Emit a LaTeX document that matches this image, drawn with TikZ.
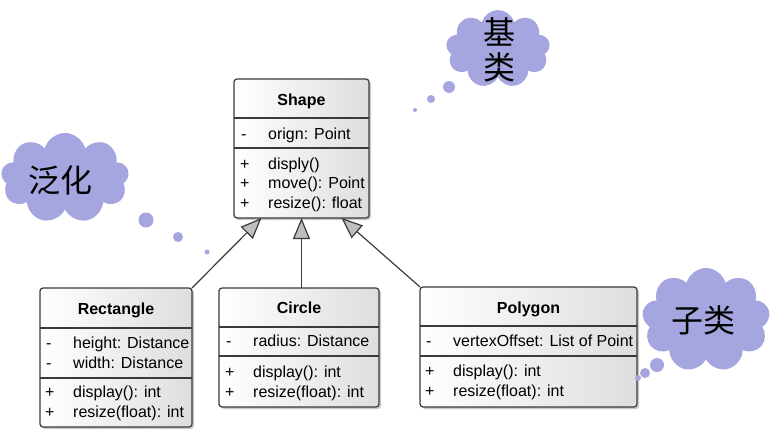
\documentclass[tikz,border=0pt]{standalone}
\usepackage{fontspec}
\setmainfont{Liberation Sans}
\newfontfamily\cjk{Noto Sans CJK SC}
\usetikzlibrary{shapes.symbols,shadows,arrows.meta}
\definecolor{cloudc}{RGB}{165,165,223}
\definecolor{boxline}{RGB}{58,58,58}
\tikzset{
  classbox/.style={draw=boxline, line width=1.2pt, rounded corners=3pt,
    left color=white, right color=black!13,
    drop shadow={shadow xshift=2pt, shadow yshift=-2pt, opacity=0.35, fill=black!60},
    inner sep=0pt, outer sep=0pt},
  divider/.style={draw=boxline, line width=1.2pt},
  title/.style={font=\fontsize{16}{19}\selectfont\bfseries, anchor=mid, inner sep=0pt, yshift=-2pt},
  member/.style={font=\fontsize{16}{19}\selectfont, anchor=mid west, inner sep=0pt, yshift=-3pt},
  gen/.style={draw=boxline, line width=1.2pt,
    -{Triangle[length=21pt, width=17pt, fill=black!25]}},
  thought/.style={cloud, cloud puffs=9, cloud ignores aspect, fill=cloudc, inner sep=0pt},
  cjktext/.style={font=\cjk\fontsize{32}{35}\selectfont, align=center, inner sep=0pt},
  bubble/.style={circle, fill=cloudc, inner sep=0pt},
}
\begin{document}
\begin{tikzpicture}[x=1pt, y=-1pt]
\useasboundingbox (0,0) rectangle (773,436);

% ---------- Shape ----------
\node[classbox, minimum width=135, minimum height=139] (shape) at (301.5,148.5) {};
\node[title] (shapeT) at (301.5,101) {Shape};
\draw[divider] (shape.west |- 0,118) -- (shape.east |- 0,118);
\draw[divider] (shape.west |- 0,148) -- (shape.east |- 0,148);
\node[member] (sa1s) at (241,134) {-};
\node[member] (sa1) at (268,134) {orign: Point};
\node[member] (sm1s) at (240,164) {+};
\node[member] (sm1) at (268,164) {disply()};
\node[member] (sm2s) at (240,183) {+};
\node[member] (sm2) at (268,183) {move(): Point};
\node[member] (sm3s) at (240,203) {+};
\node[member] (sm3) at (268,203) {resize(): float};

% ---------- Rectangle ----------
\node[classbox, minimum width=152, minimum height=139] (rect) at (116,357.5) {};
\node[title] (rectT) at (116,310) {Rectangle};
\draw[divider] (rect.west |- 0,328) -- (rect.east |- 0,328);
\draw[divider] (rect.west |- 0,378) -- (rect.east |- 0,378);
\node[member] (ra1s) at (46,343) {-};
\node[member] (ra1) at (73,343) {height: Distance};
\node[member] (ra2s) at (46,363) {-};
\node[member] (ra2) at (73,363) {width: Distance};
\node[member] (rm1s) at (45,392) {+};
\node[member] (rm1) at (73,392) {display(): int};
\node[member] (rm2s) at (45,412) {+};
\node[member] (rm2) at (73,412) {resize(float): int};

% ---------- Circle ----------
\node[classbox, minimum width=160, minimum height=119] (circ) at (299,347.5) {};
\node[title] (circT) at (299,309) {Circle};
\draw[divider] (circ.west |- 0,327) -- (circ.east |- 0,327);
\draw[divider] (circ.west |- 0,356) -- (circ.east |- 0,356);
\node[member] (ca1s) at (226,341) {-};
\node[member] (ca1) at (253,341) {radius: Distance};
\node[member] (cm1s) at (225,372) {+};
\node[member] (cm1) at (253,372) {display(): int};
\node[member] (cm2s) at (225,392) {+};
\node[member] (cm2) at (253,392) {resize(float): int};

% ---------- Polygon ----------
\node[classbox, minimum width=217, minimum height=120] (poly) at (528.5,347) {};
\node[title] (polyT) at (528.5,309) {Polygon};
\draw[divider] (poly.west |- 0,326) -- (poly.east |- 0,326);
\draw[divider] (poly.west |- 0,356) -- (poly.east |- 0,356);
\node[member] (pa1s) at (426,341) {-};
\node[member] (pa1) at (453,341) {vertexOffset: List of Point};
\node[member] (pm1s) at (425,371) {+};
\node[member] (pm1) at (453,371) {display(): int};
\node[member] (pm2s) at (425,391) {+};
\node[member] (pm2) at (453,391) {resize(float): int};

% ---------- generalisation arrows ----------
\draw[gen] (rect.north east) -- ([xshift=-40pt]shape.south);
\draw[gen] (circ.north -| shape.south) -- (shape.south);
\draw[gen] (poly.north west) -- ([xshift=40pt]shape.south);

% ---------- clouds ----------
\node[thought, minimum width=104, minimum height=78] (cbase) at (498,49) {};
\node[cjktext] (tbase) at (499,50) {基\\类};
\node[bubble, minimum size=12] (bb1) at (449,87) {};
\node[bubble, minimum size=8] (bb2) at (431,99) {};
\node[bubble, minimum size=4] (bb3) at (415,110) {};

\node[thought, minimum width=128, minimum height=90] (cgen) at (65,178) {};
\node[cjktext] (tgen) at (60,180) {泛化};
\node[bubble, minimum size=15] (bg1) at (146,220) {};
\node[bubble, minimum size=10] (bg2) at (178,237) {};
\node[bubble, minimum size=5] (bg3) at (207,252) {};

\node[thought, minimum width=128, minimum height=104] (csub) at (706,320) {};
\node[cjktext] (tsub) at (703,320) {子类};
\node[bubble, minimum size=14] (bs1) at (657,365) {};
\node[bubble, minimum size=10] (bs2) at (645,373) {};
\node[bubble, minimum size=6] (bs3) at (638,378) {};
\end{tikzpicture}
\end{document}
